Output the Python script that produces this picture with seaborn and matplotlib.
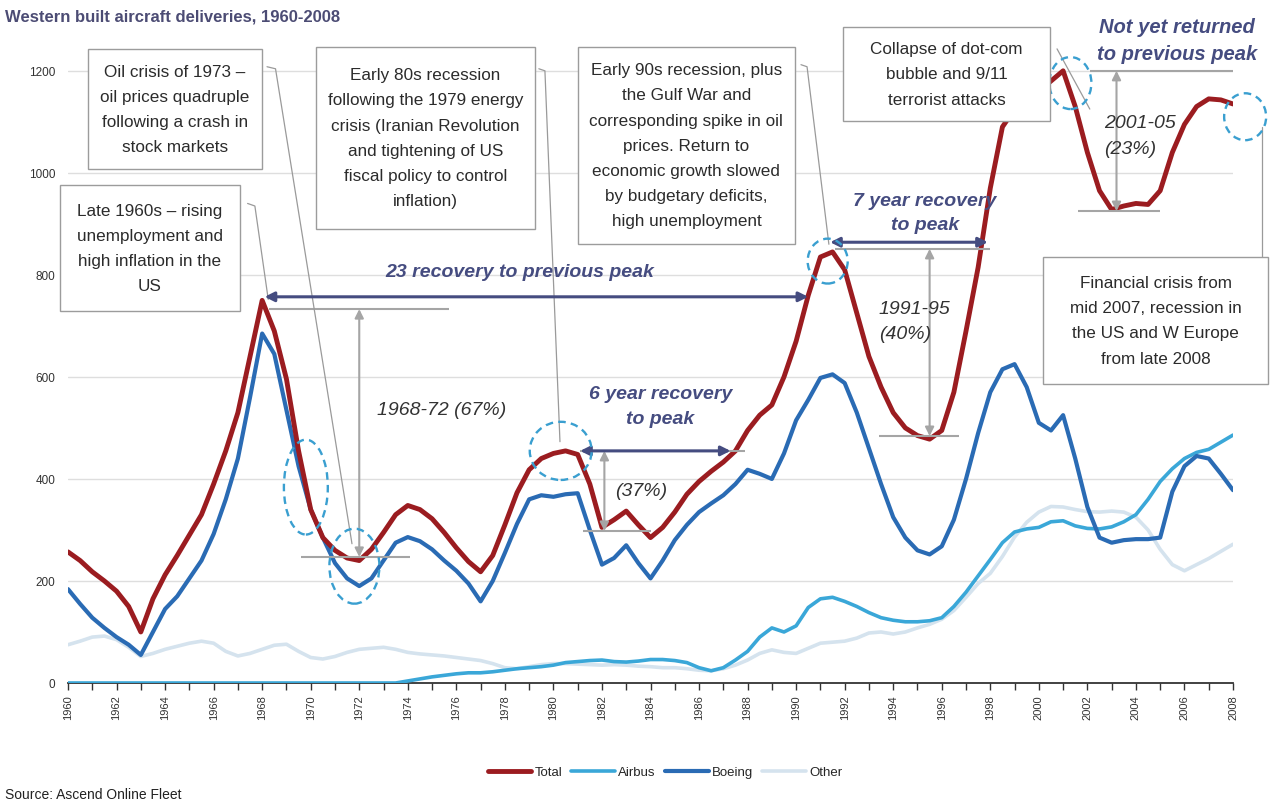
import numpy as np
import pandas as pd
import matplotlib
matplotlib.use("Agg")
import matplotlib.pyplot as plt
import seaborn as sns
from matplotlib.patches import Ellipse, Rectangle

sns.set_theme(style="white")
plt.rcParams["font.family"] = ["Liberation Sans", "DejaVu Sans"]

# Half-yearly deliveries, 1960.0 ... 2008.0 (two values per year row)
years = np.arange(1960, 2008.01, 0.5)

total = [
    257, 240, 218, 200, 180, 150, 100, 165, 212, 250,   # 1960-64
    290, 330, 390, 455, 530, 640, 750, 690, 596, 455,   # 1965-69
    340, 285, 260, 245, 240, 262, 295, 330, 348, 340,   # 1970-74
    322, 295, 265, 238, 218, 250, 310, 373, 418, 440,   # 1975-79
    450, 455, 448, 390, 305, 320, 337, 310, 285, 305,   # 1980-84
    335, 370, 395, 415, 433, 455, 495, 525, 545, 600,   # 1985-89
    670, 760, 835, 845, 810, 725, 640, 580, 530, 500,   # 1990-94
    485, 478, 495, 570, 690, 815, 970, 1090, 1125, 1145,  # 1995-99
    1160, 1180, 1200, 1130, 1040, 965, 928, 935, 940, 938,  # 2000-04
    965, 1040, 1095, 1130, 1145, 1143, 1135,            # 2005-08
]

boeing = [
    184, 155, 128, 108, 90, 75, 55, 100, 145, 170,
    205, 240, 292, 360, 440, 560, 685, 645, 535, 425,
    340, 285, 235, 205, 190, 205, 240, 275, 286, 278,
    262, 240, 220, 195, 160, 200, 255, 312, 360, 368,
    365, 370, 372, 300, 232, 245, 270, 235, 205, 240,
    280, 310, 335, 352, 368, 390, 418, 410, 400, 450,
    515, 555, 598, 605, 588, 530, 460, 390, 325, 285,
    260, 252, 268, 320, 400, 490, 570, 615, 625, 580,
    510, 495, 525, 440, 345, 285, 275, 280, 282, 282,
    285, 375, 425, 445, 440, 410, 378,
]

airbus = [
    0, 0, 0, 0, 0, 0, 0, 0, 0, 0,
    0, 0, 0, 0, 0, 0, 0, 0, 0, 0,
    0, 0, 0, 0, 0, 0, 0, 0, 4, 8,
    12, 15, 18, 20, 20, 22, 25, 28, 30, 32,
    35, 40, 42, 44, 45, 42, 41, 43, 46, 46,
    44, 40, 30, 24, 30, 45, 62, 90, 108, 100,
    112, 148, 165, 168, 160, 150, 138, 128, 123, 120,
    120, 122, 128, 150, 178, 210, 242, 275, 296, 302,
    305, 316, 318, 308, 303, 302, 306, 316, 330, 360,
    395, 420, 440, 452, 458, 472, 486,
]

other = [
    75, 82, 90, 92, 85, 70, 52, 58, 66, 72,
    78, 82, 78, 62, 53, 58, 66, 74, 76, 62,
    50, 47, 52, 60, 66, 68, 70, 66, 60, 57,
    55, 53, 50, 47, 44, 38, 30, 28, 32, 36,
    38, 38, 37, 36, 35, 36, 35, 33, 32, 30,
    30, 28, 25, 24, 28, 35, 45, 58, 65, 60,
    58, 68, 78, 80, 82, 88, 98, 100, 96, 100,
    108, 115, 125, 142, 168, 195, 215, 248, 286, 315,
    335, 346, 345, 340, 336, 335, 337, 335, 325, 300,
    262, 232, 220, 232, 244, 258, 272,
]

series_order = ["Total", "Airbus", "Boeing", "Other"]
palette = {"Total": "#9b1c20", "Airbus": "#3aa7d8", "Boeing": "#2a6bb4", "Other": "#d5e3ee"}
widths = {"Total": 3.5, "Airbus": 2.6, "Boeing": 3.0, "Other": 2.6}
layers = {"Other": 2, "Airbus": 2.2, "Boeing": 2.4, "Total": 2.6}

df = pd.DataFrame({"year": years, "Total": total, "Airbus": airbus,
                   "Boeing": boeing, "Other": other})
long_df = df.melt(id_vars="year", var_name="series", value_name="deliveries")

W, H = 1277, 803
fig = plt.figure(figsize=(W / 100, H / 100), dpi=100)
ax = fig.add_axes([68 / W, 1 - 684 / H, (1233 - 68) / W, (684 - 31) / H])

for name in ["Other", "Airbus", "Boeing", "Total"]:
    sns.lineplot(data=long_df[long_df["series"] == name], x="year", y="deliveries",
                 color=palette[name], lw=widths[name], ax=ax, label=name,
                 zorder=layers[name])

ax.set_xlim(1960, 2008)
ax.set_ylim(0, 1280)
ax.set_xlabel("")
ax.set_ylabel("")

# axes styling
for s in ["top", "right", "left"]:
    ax.spines[s].set_visible(False)
ax.spines["bottom"].set_color("#333333")
ax.spines["bottom"].set_linewidth(1.3)
ax.spines["bottom"].set_zorder(1.5)
ax.set_yticks(np.arange(0, 1201, 200))
for v in range(200, 1201, 200):
    ax.axhline(v, color="#dedede", lw=1.0, zorder=0.5)
ax.set_xticks(np.arange(1960, 2009, 2))
ax.set_xticks(np.arange(1960, 2009, 1), minor=True)
ax.tick_params(axis="x", which="both", direction="out", length=5, width=1,
               color="#333333", bottom=True, labelsize=8, labelcolor="#333333",
               rotation=90, pad=3)
ax.tick_params(axis="y", length=0, labelsize=8.5, labelcolor="#333333", pad=9)

# ----- annotations -----
navy = "#454c80"
grey = "#a5a5a5"
ring = "#3a9fd0"
note_txt = "#2b2b2b"

# data units per screen pixel on each axis
X_PER_PX = 48 / (1233 - 68)
Y_PER_PX = 1280 / (684 - 31)

def ref_line(x0, x1, y):
    ax.plot([x0, x1], [y, y], color=grey, lw=1.5, zorder=3, solid_capstyle="butt")

def drop_arrow(x, top, bottom):
    ax.annotate("", xy=(x, bottom), xytext=(x, top),
                arrowprops=dict(arrowstyle="<|-|>", color=grey, lw=1.5,
                                mutation_scale=13, shrinkA=0, shrinkB=0),
                zorder=3)

def span_arrow(x0, x1, y):
    ax.annotate("", xy=(x1, y), xytext=(x0, y),
                arrowprops=dict(arrowstyle="<|-|>", color=navy, lw=2.2,
                                mutation_scale=14, shrinkA=0, shrinkB=0),
                zorder=4)

def leader(pts):
    xs, ys = zip(*pts)
    ax.plot(xs, ys, color="#9a9a9a", lw=0.9, zorder=3, clip_on=False)

def ring_at(x, y, w, h):
    ax.add_patch(Ellipse((x, y), w, h, fill=False, ec=ring, lw=1.7,
                         ls=(0, (3.2, 2.2)), zorder=5, clip_on=False))

def note(x, y, w_px, h_px, s):
    w, h = w_px * X_PER_PX, h_px * Y_PER_PX
    ax.add_patch(Rectangle((x - w / 2, y - h / 2), w, h, fc="white",
                           ec="#9c9c9c", lw=1.0, zorder=6.5, clip_on=False))
    ax.text(x, y, s, ha="center", va="center", fontsize=12.3, color=note_txt,
            linespacing=1.85, zorder=7)

def italic_label(x, y, s, ha="center"):
    ax.text(x, y, s, ha=ha, va="center", fontsize=14, style="italic",
            color="#333333", linespacing=1.65, zorder=6)

def navy_label(x, y, s, size=14):
    ax.text(x, y, s, ha="center", va="center", fontsize=size, style="italic",
            weight="bold", color=navy, linespacing=1.55, zorder=6)

# 1968-72 fall
ref_line(1968.3, 1975.7, 733)
ref_line(1969.6, 1974.1, 247)
drop_arrow(1972.0, 733, 247)
italic_label(1975.4, 537, "1968-72 (67%)")

# 1980-82 fall
ref_line(1981.1, 1987.9, 455)
ref_line(1981.2, 1984.0, 298)
drop_arrow(1982.1, 455, 298)
italic_label(1983.6, 378, "(37%)")

# 1991-95 fall
ref_line(1991.6, 1998.0, 851)
ref_line(1993.4, 1996.7, 484)
drop_arrow(1995.5, 851, 484)
italic_label(1993.4, 710, "1991-95\n(40%)", ha="left")

# 2001-05 fall
ref_line(2002.1, 2008.2, 1200)
ref_line(2001.6, 2005.0, 925)
drop_arrow(2003.2, 1200, 925)
italic_label(2002.7, 1073, "2001-05\n(23%)", ha="left")

# recovery spans
span_arrow(1968.1, 1990.5, 757)
navy_label(1978.6, 806, "23 recovery to previous peak")
span_arrow(1981.1, 1987.3, 455)
navy_label(1984.4, 543, "6 year recovery\nto peak")
span_arrow(1991.4, 1997.9, 864)
navy_label(1995.3, 923, "7 year recovery\nto peak")
navy_label(2005.7, 1261, "Not yet returned\nto previous peak", size=14.5)

# leader lines from the notes
leader([(1967.4, 940), (1967.7, 935), (1968.25, 752)])
leader([(1968.2, 1208), (1968.55, 1204), (1971.7, 273)])
leader([(1979.4, 1204), (1979.65, 1200), (1980.27, 473)])
leader([(1990.2, 1212), (1990.45, 1208), (1991.35, 860)])
leader([(2000.75, 1243), (2002.1, 1125)])
leader([(2009.2, 1090), (2009.2, 835)])

# dashed rings on the turning points
ring_at(1969.8, 384, 1.81, 186)
ring_at(1971.8, 229, 2.06, 147)
ring_at(1980.3, 455, 2.55, 114)
ring_at(1991.3, 827, 1.65, 88)
ring_at(2001.3, 1176, 1.73, 102)
ring_at(2008.5, 1110, 1.73, 92)

# event notes
note(1964.41, 1125, 174, 120,
     "Oil crisis of 1973 \u2013\noil prices quadruple\nfollowing a crash in\nstock markets")
note(1963.38, 853, 180, 126,
     "Late 1960s \u2013 rising\nunemployment and\nhigh inflation in the\nUS")
note(1974.73, 1069, 219, 182,
     "Early 80s recession\nfollowing the 1979 energy\ncrisis (Iranian Revolution\nand tightening of US\nfiscal policy to control\ninflation)")
note(1985.48, 1054, 217, 197,
     "Early 90s recession, plus\nthe Gulf War and\ncorresponding spike in oil\nprices. Return to\neconomic growth slowed\nby budgetary deficits,\nhigh unemployment")
note(1996.2, 1194, 207, 94,
     "Collapse of dot-com\nbubble and 9/11\nterrorist attacks")
note(2004.81, 711, 225, 127,
     "Financial crisis from\nmid 2007, recession in\nthe US and W Europe\nfrom late 2008")

# title, source and legend
fig.text(5 / W, 1 - 17 / H, "Western built aircraft deliveries, 1960-2008",
         ha="left", va="center", fontsize=12, weight="bold", color="#4c4c74")
fig.text(5 / W, 1 - 795 / H, "Source: Ascend Online Fleet", ha="left",
         va="center", fontsize=10, color="#222222")

handles, labels = ax.get_legend_handles_labels()
lookup = dict(zip(labels, handles))
ax.get_legend().remove()
fig.legend([lookup[n] for n in series_order], series_order, loc="center",
           bbox_to_anchor=(665 / W, 1 - 773 / H), ncol=4, frameon=False,
           fontsize=9.5, handlelength=3.3, handletextpad=0.25, columnspacing=0.7)

fig.savefig("out.png", dpi=100)
